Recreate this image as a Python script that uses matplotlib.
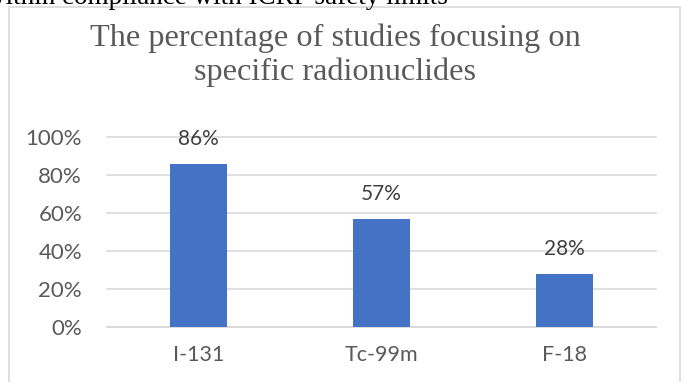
import matplotlib.pyplot as plt
from matplotlib.patches import Rectangle

categories = ["I-131", "Tc-99m", "F-18"]
values = [0.86, 0.57, 0.28]
value_labels = ["86%", "57%", "28%"]
y_ticks = [0, 0.2, 0.4, 0.6, 0.8, 1.0]
y_tick_labels = ["0%", "20%", "40%", "60%", "80%", "100%"]
title = "The percentage of studies focusing on\nspecific radionuclides"
cut_text = "within compliance with ICRP safety limits"

fig = plt.figure(figsize=(6.87, 3.82), dpi=100)

# outer chart border (Excel chart area)
fig.patches.append(Rectangle((9 / 687, -0.05), 671 / 687, 1.0 - 7 / 382 + 0.05,
                             transform=fig.transFigure, fill=False,
                             edgecolor="#d9d9d9", linewidth=1.2))

# text of the page above the chart, cut off at the top edge
fig.text(-0.02, 1.0 - 4 / 382, cut_text, family="Liberation Serif", fontsize=19.5,
         color="black", ha="left", va="baseline")

fig.text(335 / 687, 1 - 55 / 382, title, family="Liberation Serif", fontsize=23.2,
         color="#595959", ha="center", va="center", linespacing=1.22)

ax = fig.add_axes([107 / 687, 55 / 382, 549 / 687, 190 / 382])
x = range(len(categories))
bars = ax.bar(x, values, width=0.31, color="#4472c4", zorder=3)

for xi, v, lab in zip(x, values, value_labels):
    ax.text(xi, v + 0.13, lab, ha="center", va="center", fontsize=15,
            family="Lato", color="#404040")

ax.set_xlim(-0.5, 2.5)
ax.set_ylim(0, 1.0)
ax.set_yticks(y_ticks)
ax.set_yticklabels(y_tick_labels, family="Lato", fontsize=16, color="#595959")
ax.set_xticks(list(x))
ax.set_xticklabels(categories, family="Lato", fontsize=15.5, color="#595959")
ax.tick_params(length=0, pad=18, axis="y")
ax.tick_params(length=0, pad=13, axis="x")
ax.grid(axis="y", color="#d9d9d9", linewidth=1.2, zorder=0)
for s in ["top", "right", "left"]:
    ax.spines[s].set_visible(False)
ax.spines["bottom"].set_color("#d9d9d9")
ax.spines["bottom"].set_linewidth(1.2)
for line in ax.get_ygridlines():
    line.set_clip_on(False)

fig.savefig("out.png", dpi=100)
